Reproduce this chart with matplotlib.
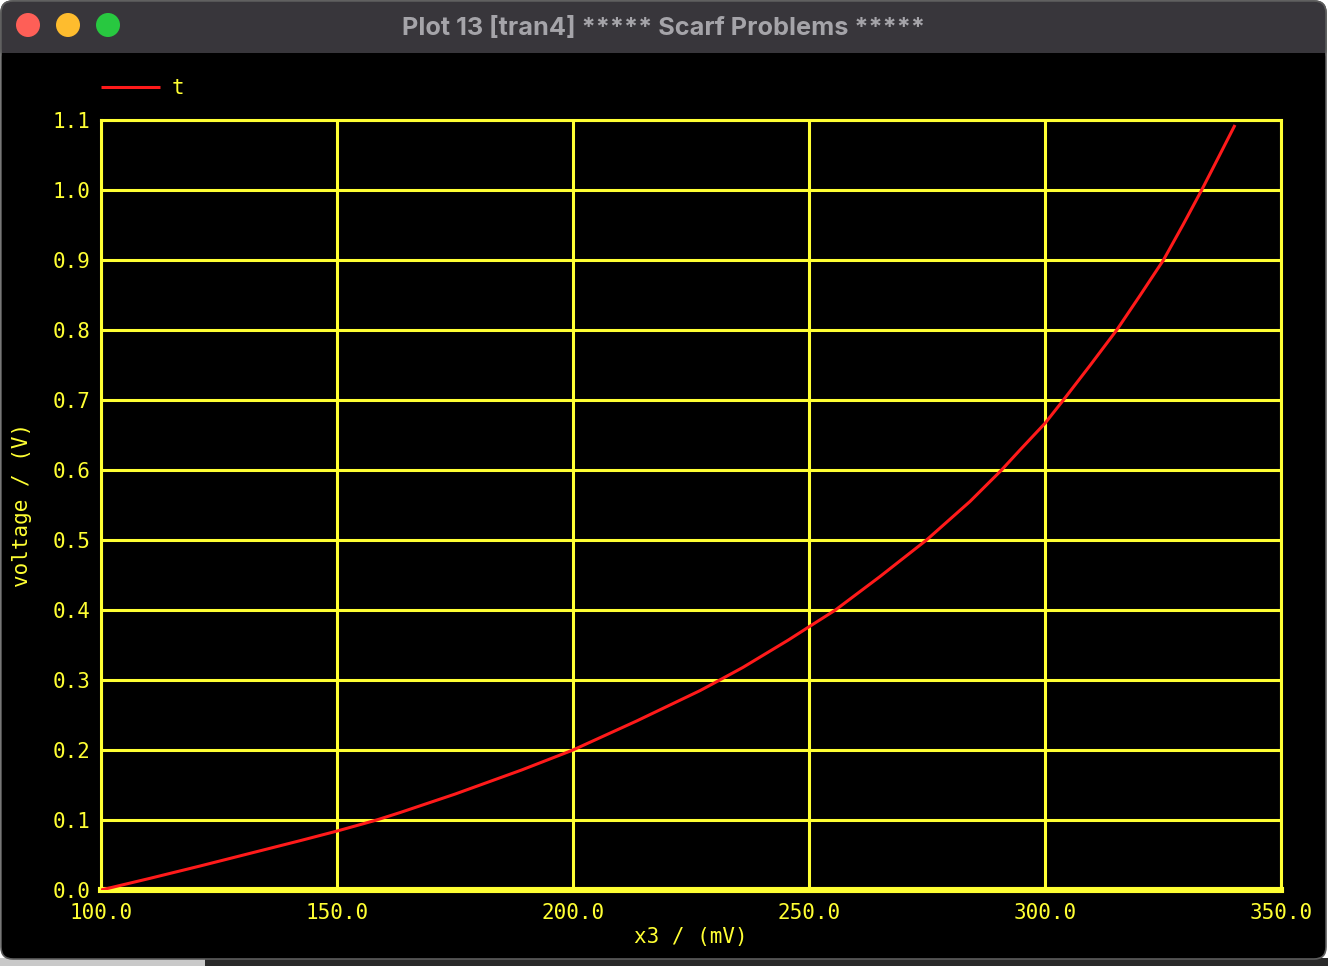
import numpy as np
import matplotlib
matplotlib.use("Agg")
import matplotlib.pyplot as plt
from matplotlib.patches import FancyBboxPatch, Rectangle, Circle

# values
x_mv = [100.0, 110.4, 121.0, 131.6, 142.2, 150.0, 158.4, 163.3, 175.0,
        189.1, 200.0, 213.5, 226.9, 231.1, 236.0, 245.6, 250.0, 255.6,
        265.0, 274.9, 284.1, 290.8, 294.7, 300.0, 303.9, 309.5, 315.2,
        320.1, 325.1, 329.3, 333.2, 336.7, 340.25]
v_volt = [0.0, 0.0167, 0.0343, 0.0524, 0.0705, 0.0842, 0.1, 0.1105, 0.137,
          0.1714, 0.2, 0.2415, 0.2848, 0.3, 0.318, 0.357, 0.376, 0.4,
          0.4476, 0.5, 0.555, 0.6, 0.6286, 0.6667, 0.7, 0.749, 0.8,
          0.849, 0.9, 0.951, 1.0, 1.046, 1.0929]

x_ticks = [100, 150, 200, 250, 300, 350]
y_ticks = [0.0, 0.1, 0.2, 0.3, 0.4, 0.5, 0.6, 0.7, 0.8, 0.9, 1.0, 1.1]

title = "Plot 13 [tran4] ***** Scarf Problems *****"
series_name = "t"
x_label = "x3 / (mV)"
y_label = "voltage / (V)"

W, H = 1328, 966
YEL = "#ffff33"
RED = "#ff1a1a"
MONO = "DejaVu Sans Mono"
FS = 15

fig = plt.figure(figsize=(W / 100, H / 100), dpi=100)
fig.patch.set_facecolor("#ffffff")

# window chrome drawn in pixel space
bg = fig.add_axes([0, 0, 1, 1])
bg.set_xlim(0, W)
bg.set_ylim(H, 0)
bg.axis("off")
bg.add_patch(Rectangle((0, 958), 205, 8, color="#c9c9c9", lw=0))
bg.add_patch(Rectangle((205, 958), W - 205, 8, color="#2a2a2a", lw=0))
bg.add_patch(FancyBboxPatch((1, 1), W - 3, 958, boxstyle="round,pad=0,rounding_size=12",
                            facecolor="#000000", edgecolor="#5c5c5c", lw=1.2))
bg.add_patch(FancyBboxPatch((1, 1), W - 3, 60, boxstyle="round,pad=0,rounding_size=12",
                            facecolor="#38363b", edgecolor="#5c5c5c", lw=1.2))
bg.add_patch(Rectangle((1.6, 40), W - 4.2, 13, color="#38363b", lw=0))
bg.add_patch(Rectangle((1.6, 53), W - 4.2, 12, color="#000000", lw=0))
for cx, col in zip([28, 68, 108], ["#fe5f57", "#febc2e", "#28c840"]):
    bg.add_patch(Circle((cx, 25), 12, color=col, lw=0))
bg.text(663, 28, title, ha="center", va="center", fontsize=18.2,
        fontweight="bold", color="#a5a4a9", family=["Inter", "DejaVu Sans"])

ax = fig.add_axes([101 / W, 1 - 890 / H, 1180 / W, 770 / H])
ax.set_facecolor("#000000")
ax.plot(x_mv, v_volt, color=RED, lw=2.2, label=series_name, zorder=5,
        solid_capstyle="butt", solid_joinstyle="round")

ax.set_xlim(100, 350)
ax.set_ylim(0, 1.1)
ax.set_xticks(x_ticks)
ax.set_yticks(y_ticks)
ax.set_xticklabels([f"{v:.1f}" for v in x_ticks])
ax.set_yticklabels([f"{v:.1f}" for v in y_ticks])
ax.grid(True, color=YEL, lw=2.2)
ax.set_axisbelow(True)
for side, sp in ax.spines.items():
    sp.set_color(YEL)
    sp.set_linewidth(2.2)
ax.spines["bottom"].set_linewidth(4.4)
ax.tick_params(length=0, colors=YEL, labelsize=FS)
ax.tick_params(axis="x", pad=9.5)
ax.tick_params(axis="y", pad=7.5)
for lab in ax.get_xticklabels() + ax.get_yticklabels():
    lab.set_family(MONO)

ax.set_xlabel(x_label, color=YEL, fontsize=FS, family=MONO, labelpad=3)
ax.set_ylabel(y_label, color=YEL, fontsize=FS, family=MONO, labelpad=15)

leg = ax.legend(loc="center left", bbox_to_anchor=(101 / W, 1 - 88 / H),
                bbox_transform=fig.transFigure, frameon=False, borderpad=0,
                borderaxespad=0, handlelength=2.85, handletextpad=0.55,
                prop={"family": MONO, "size": FS})
for t in leg.get_texts():
    t.set_color(YEL)

fig.savefig("out.png", dpi=100, facecolor=fig.get_facecolor())
